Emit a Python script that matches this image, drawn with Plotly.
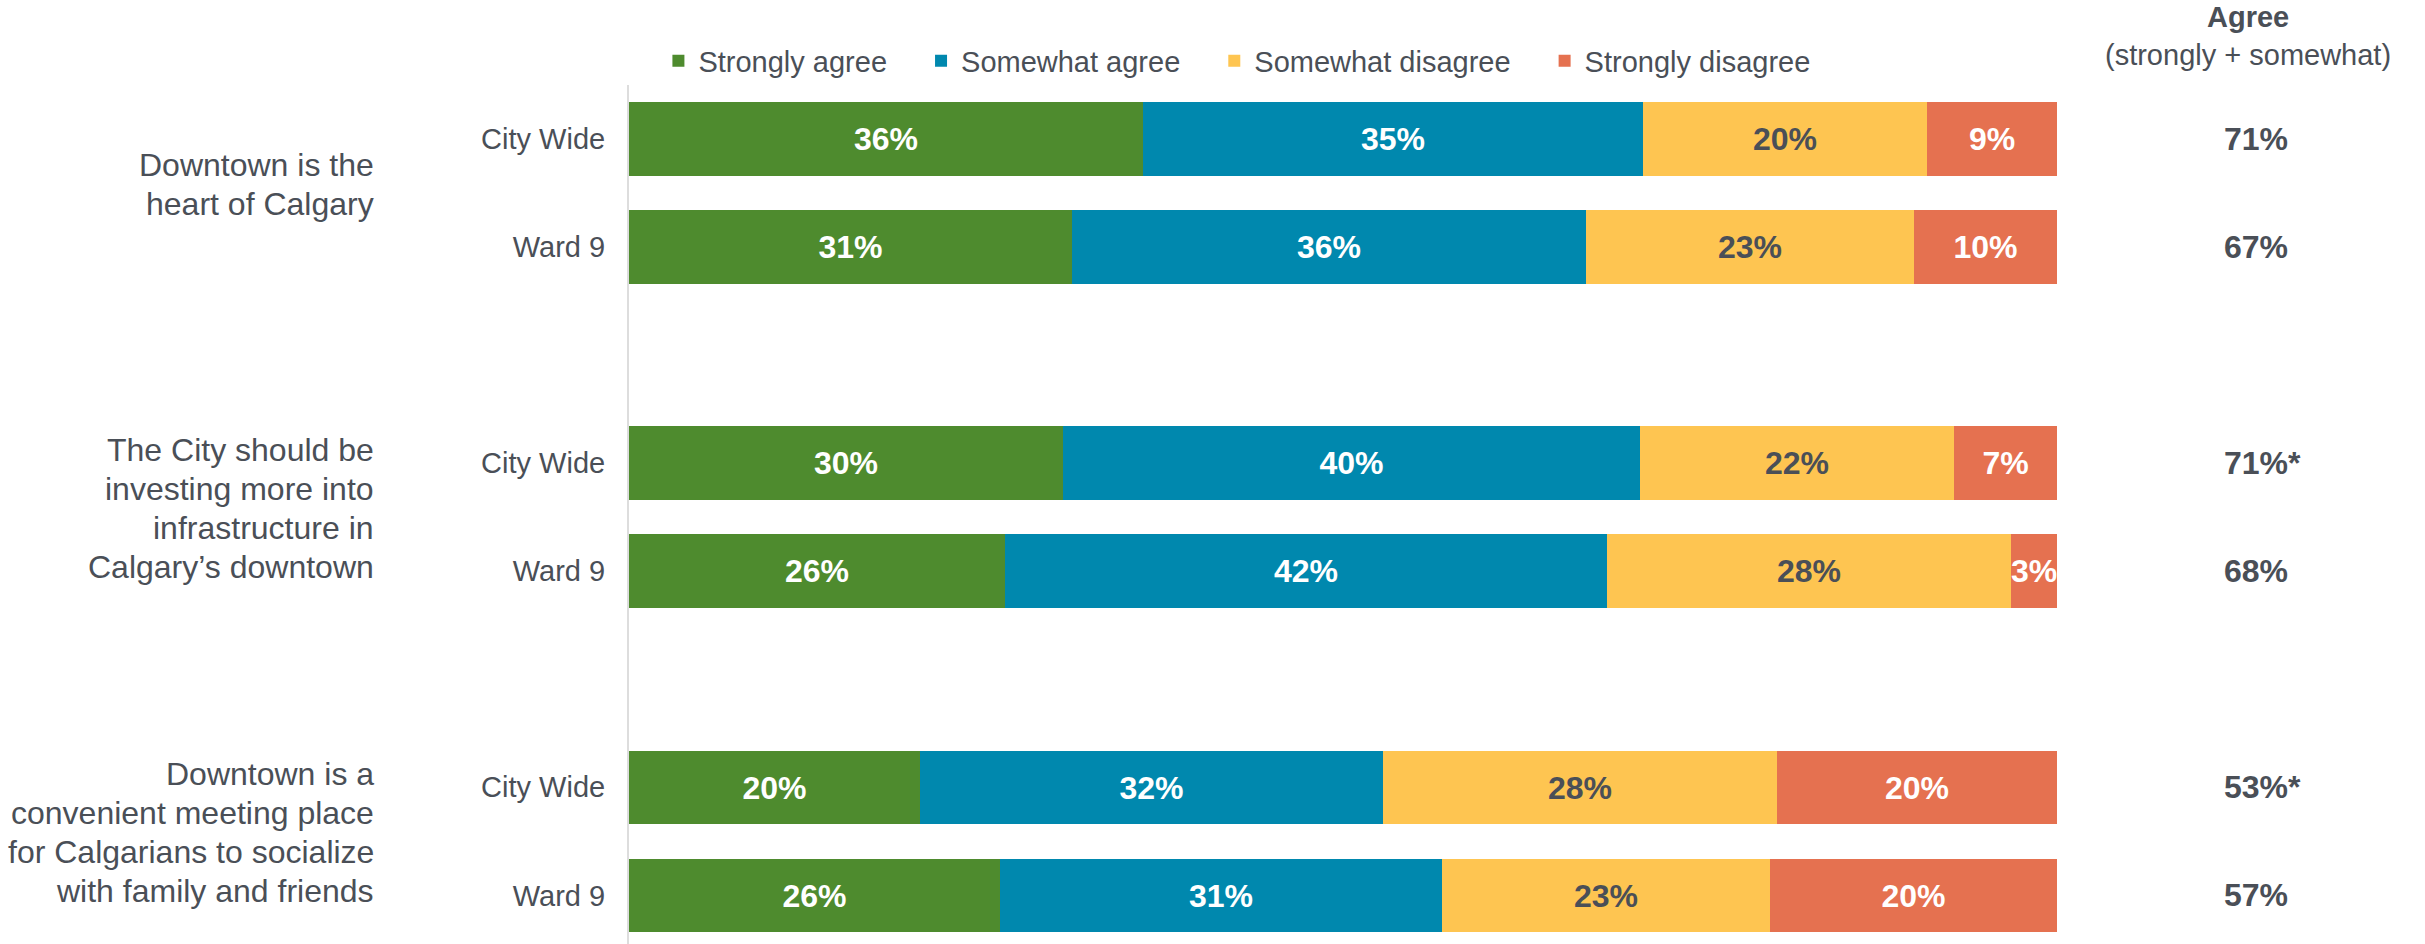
import plotly.graph_objects as go

# Statements (group labels, one entry per line) and sub-groups
statements = [
    ["Downtown is the", "heart of Calgary"],
    ["The City should be", "investing more into", "infrastructure in", "Calgary’s downtown"],
    ["Downtown is a", "convenient meeting place", "for Calgarians to socialize", "with family and friends"],
]
groups = ["City Wide", "Ward 9"]

# Shares (%) per row, rows ordered statement by statement, City Wide then Ward 9
strongly_agree = [36.0, 31.0, 30.4, 26.3, 20.4, 26.0]
somewhat_agree = [35.0, 36.0, 40.4, 42.2, 32.4, 30.9]
somewhat_disagree = [19.9, 23.0, 22.0, 28.3, 27.6, 23.0]
strongly_disagree = [9.1, 10.0, 7.2, 3.2, 19.6, 20.1]

agree_total = [71, 67, 71, 68, 53, 57]
agree_flag = ["", "", "*", "", "*", ""]

series = [
    ("Strongly agree", strongly_agree, "#4E8B2E", "white"),
    ("Somewhat agree", somewhat_agree, "#0088AE", "white"),
    ("Somewhat disagree", somewhat_disagree, "#FEC551", "#4A4F57"),
    ("Strongly disagree", strongly_disagree, "#E57150", "white"),
]

FONT = "Arial, 'Liberation Sans', sans-serif"
TEXT = "#4A4F57"
PAD = "\u00a0\u00a0\u00a0\u2006"  # extra room after each legend entry

# row positions: two rows per statement, one empty slot between statements
ypos = [3 * g + i for g in range(len(statements)) for i in range(len(groups))]
ylabels = [groups[i] for g in range(len(statements)) for i in range(len(groups))]

fig = go.Figure()
for name, vals, color, tcolor in series:
    fig.add_trace(
        go.Bar(
            x=vals,
            y=ypos,
            orientation="h",
            name=name + PAD,
            marker=dict(color=color, line=dict(width=0)),
            width=0.68,
            texttemplate="%{x:.0f}%",
            textposition="inside",
            insidetextanchor="middle",
            textangle=0,
            constraintext="none",
            textfont=dict(family=FONT, size=32, color=tcolor, weight="bold"),
            hoverinfo="skip",
        )
    )

annotations = []
line_gap = 39
for g, lines in enumerate(statements):
    n = len(lines)
    for k, line in enumerate(lines):
        annotations.append(
            dict(
                text=line, x=-0.177, xref="paper", xanchor="right", align="right",
                y=3 * g + 0.5, yref="y", yanchor="middle",
                yshift=((n - 1) / 2 - k) * line_gap + 9,
                showarrow=False,
                font=dict(family=FONT, size=32, color=TEXT),
            )
        )
for y, tot, flag in zip(ypos, agree_total, agree_flag):
    annotations.append(
        dict(
            text=f"{tot}%{flag}", x=1.1155, xref="paper", xanchor="left",
            y=y, yref="y", yanchor="middle", showarrow=False,
            font=dict(family=FONT, size=32, color=TEXT, weight="bold"),
        )
    )
# column header
annotations.append(
    dict(
        text="<b>Agree</b>", x=1.1338, xref="paper", xanchor="center",
        y=1.079, yref="paper", yanchor="middle", showarrow=False,
        font=dict(family=FONT, size=29, color=TEXT),
    )
)
annotations.append(
    dict(
        text="(strongly + somewhat)", x=1.1338, xref="paper", xanchor="center",
        y=1.035, yref="paper", yanchor="middle", showarrow=False,
        font=dict(family=FONT, size=29, color=TEXT),
    )
)

fig.update_layout(
    width=2425,
    height=944,
    barmode="stack",
    bargap=0,
    plot_bgcolor="white",
    paper_bgcolor="white",
    margin=dict(l=629, r=368, t=85, b=0, pad=0),
    font=dict(family=FONT, size=29, color=TEXT),
    xaxis=dict(range=[0, 100], visible=False, fixedrange=True),
    yaxis=dict(
        range=[7.45, -0.5],
        tickvals=ypos,
        ticktext=ylabels,
        ticks="",
        ticklabelstandoff=16,
        showgrid=False,
        zeroline=False,
        showline=True,
        linecolor="#DDDDDD",
        linewidth=2,
        tickfont=dict(family=FONT, size=29, color=TEXT),
    ),
    legend=dict(
        orientation="h",
        x=0.0206,
        xanchor="left",
        y=1.028,
        yanchor="middle",
        font=dict(family=FONT, size=29, color=TEXT),
        traceorder="normal",
        itemclick=False,
    ),
    annotations=annotations,
)

# drop the browser's default page margin so the figure fills the window
fig.write_html(
    "out.html",
    config={"displayModeBar": False},
    post_script="document.body.style.margin = '0';",
)
